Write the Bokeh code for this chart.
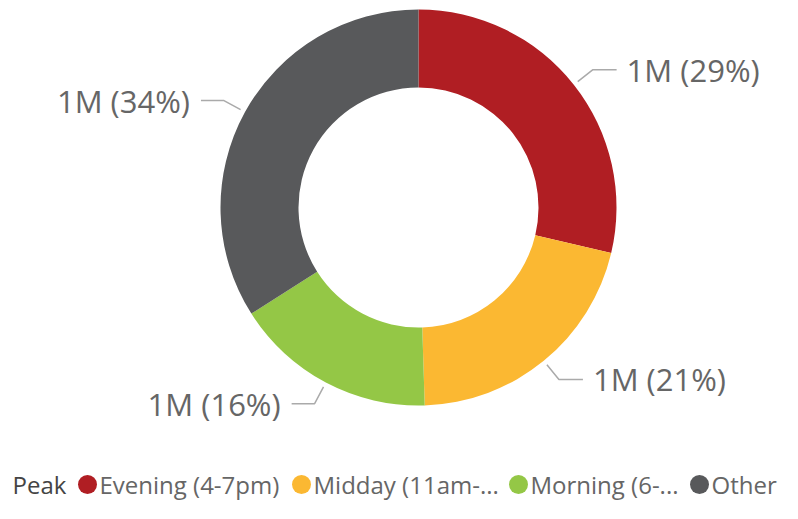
import math
from bokeh.plotting import figure
from bokeh.models import Range1d, ColumnDataSource
from bokeh.core.properties import value
from bokeh.embed import file_html
from bokeh.resources import INLINE

# ---- data ----
categories = ["Evening (4-7pm)", "Midday (11am-...", "Morning (6-...", "Other"]
shares = [28.7, 20.8, 16.5, 34.0]          # share of total, %
amount_labels = ["1M", "1M", "1M", "1M"]
colors = ["#B01E23", "#FBB832", "#94C746", "#58595B"]
legend_title = "Peak"

FONT = "Open Sans"
W, H = 782, 503
p = figure(width=W, height=H, output_backend="svg", toolbar_location=None,
           x_range=Range1d(0, W), y_range=Range1d(0, H), min_border=0)
p.axis.visible = False
p.grid.visible = False
p.outline_line_color = None
p.background_fill_color = "white"

def Y(py):  # pixel row from top -> data y
    return H - py

cx, cy = 418, Y(207)
r_out, r_in = 198, 120

total = sum(shares)
starts, ends, mids = [], [], []
cum = 0.0
for s in shares:
    a0 = math.pi / 2 - 2 * math.pi * cum / total
    cum += s
    a1 = math.pi / 2 - 2 * math.pi * cum / total
    starts.append(a0); ends.append(a1); mids.append((a0 + a1) / 2)

src = ColumnDataSource(dict(start=starts, end=ends, color=colors))
p.annular_wedge(x=cx, y=cy, inner_radius=r_in, outer_radius=r_out,
                start_angle="start", end_angle="end", direction="clock",
                color="color", line_color=None, source=src)

# leader lines and labels
lx, ly, tx, ty, ta, tt = [], [], [], [], [], []
for i, m in enumerate(mids):
    x0, y0 = cx + 203 * math.cos(m), cy + 203 * math.sin(m)
    x1, y1 = cx + 222 * math.cos(m), cy + 222 * math.sin(m)
    right = math.cos(m) >= 0
    x2 = x1 + (24 if right else -23)
    lx.append([x0, x1, x2]); ly.append([y0, y1, y1])
    tx.append(x2 + (10 if right else -11)); ty.append(y1)
    ta.append("left" if right else "right")
    pct = round(shares[i] / total * 100)
    tt.append(f"{amount_labels[i]} ({pct}%)")

p.multi_line(xs=lx, ys=ly, line_color="#AAAAAA", line_width=1.5)
p.text(x=tx, y=ty, text=tt, text_align=ta, text_baseline="middle",
       text_font=value(FONT), text_font_size="31px", text_color="#666666")

# legend row
leg_y = Y(484)
p.text(x=[12], y=[leg_y], text=[legend_title], text_baseline="middle",
       text_font=value(FONT), text_font_size="24px", text_color="#444444")
circle_x = [87, 301, 518, 699]
p.scatter(x=circle_x, y=[leg_y] * 4, size=19, color=colors, line_color=None)
p.text(x=[c + 12 for c in circle_x], y=[leg_y] * 4, text=categories,
       text_baseline="middle", text_font=value(FONT), text_font_size="24px",
       text_color="#666666")

open("out.html", "w").write(file_html(p, INLINE))
